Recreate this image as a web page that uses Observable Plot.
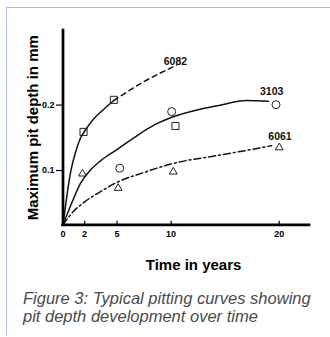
<!DOCTYPE html>
<html><head><meta charset="utf-8">
<script src="https://cdn.jsdelivr.net/npm/d3@7"></script>
<script src="https://cdn.jsdelivr.net/npm/@observablehq/plot@0.6"></script>
<style>
body{margin:0;background:#fff;}
#wrap{position:relative;width:330px;height:337px;overflow:hidden;background:#fff;}
#frame{position:absolute;left:6px;top:7px;width:330px;height:328px;border-top:1.5px solid #a9b7e3;border-left:1.5px solid #a9b7e3;}
#chart{position:absolute;left:0;top:0;}
.cap{position:absolute;left:23px;font-family:"Liberation Sans";font-style:italic;font-size:16.5px;color:#4a4a4a;line-height:18.5px;white-space:nowrap;}
</style></head><body>
<div id="wrap"><div id="frame"></div><div id="chart"></div>
<div class="cap" style="top:288.5px">Figure 3: Typical pitting curves showing</div>
<div class="cap" style="top:307px">pit depth development over time</div></div>
<script>
const xTicks = [0, 2, 5, 10, 20];
const yTicks = [0.1, 0.2];
const xTitle = "Time in years";
const yTitle = "Maximum pit depth in mm";

// fitted curves
const c6082X = [0, 0.35, 0.7, 1.16, 1.6, 2, 2.85, 3.8, 4.7];
const c6082Y = [0.017, 0.06, 0.097, 0.128, 0.149, 0.16, 0.179, 0.194, 0.207];
const e6082X = [4.7, 6, 7.5, 9, 10.5];
const e6082Y = [0.207, 0.221, 0.236, 0.249, 0.261];
const c3103X = [0, 0.8, 1.6, 2.5, 3.5, 5, 7, 8.5, 10, 12.5, 14.3, 17, 19];
const c3103Y = [0.017, 0.05, 0.08, 0.1, 0.115, 0.132, 0.155, 0.17, 0.181, 0.193, 0.199, 0.207, 0.206];
const c6061X = [0, 1, 2, 3.5, 5, 7.5, 10, 14.3, 17.4, 19.3];
const c6061Y = [0.017, 0.038, 0.052, 0.068, 0.082, 0.097, 0.110, 0.123, 0.132, 0.138];

// measured points
const squareX = [1.9, 4.7, 10.4];
const squareY = [0.159, 0.208, 0.168];
const circleX = [5.25, 10.05, 19.7];
const circleY = [0.1035, 0.190, 0.2006];
const triX = [1.8, 5.1, 10.2, 20.0];
const triY = [0.095, 0.073, 0.098, 0.135];

// series labels
const labelNames = ["6082", "3103", "6061"];
const labelX = [10.4, 19.3, 20.07];
const labelY = [0.267, 0.22, 0.1516];

const zip = (xs, ys) => xs.map((x, i) => ({x, y: ys[i]}));
const labels = labelNames.map((name, i) => ({name, x: labelX[i], y: labelY[i]}));
const y0 = 0.017;

const chart = Plot.plot({
  width: 330, height: 275,
  marginLeft: 62.5, marginRight: 21, marginTop: 30, marginBottom: 50.7,
  x: {domain: [0, 22.8]},
  y: {domain: [y0, 0.314]},
  style: {fontFamily: "Liberation Sans", fontSize: "9px", fontWeight: "bold", color: "#000", background: "transparent"},
  marks: [
    Plot.axisX({ticks: xTicks, tickSize: -3.5, tickPadding: 9.3, tickFormat: d => String(d), label: null, strokeWidth: 1.2, fontSize: 9}),
    Plot.axisY({ticks: yTicks, tickSize: 6.5, tickPadding: 2, tickFormat: d => d.toFixed(1), label: null, strokeWidth: 1.2, fontSize: 9}),
    Plot.line(zip(c6082X, c6082Y), {x: "x", y: "y", curve: "monotone-x", stroke: "#111", strokeWidth: 1.5}),
    Plot.line(zip(e6082X, e6082Y), {x: "x", y: "y", curve: "monotone-x", stroke: "#111", strokeWidth: 1.5, strokeDasharray: "5,4"}),
    Plot.line(zip(c3103X, c3103Y), {x: "x", y: "y", curve: "monotone-x", stroke: "#111", strokeWidth: 1.5}),
    Plot.line(zip(c6061X, c6061Y), {x: "x", y: "y", curve: "monotone-x", stroke: "#111", strokeWidth: 1.5, strokeDasharray: "7,3,2,3"}),
    Plot.dot(zip(squareX, squareY), {x: "x", y: "y", symbol: "square", r: 4, stroke: "#222", strokeWidth: 1, fill: "none"}),
    Plot.dot(zip(circleX, circleY), {x: "x", y: "y", symbol: "circle", r: 4, stroke: "#222", strokeWidth: 1, fill: "none"}),
    Plot.dot(zip(triX, triY), {x: "x", y: "y", symbol: "triangle", r: 2.9, stroke: "#222", strokeWidth: 1, fill: "none"}),
    Plot.text(labels, {x: "x", y: "y", text: "name", fontSize: 10.5, fontWeight: "bold", fill: "#111"}),
    Plot.ruleX([0], {stroke: "#000", strokeWidth: 2.7, strokeLinecap: "square"}),
    Plot.ruleY([y0], {stroke: "#000", strokeWidth: 2.7, strokeLinecap: "square"}),
    Plot.text([yTitle], {frameAnchor: "left", textAnchor: "middle", lineAnchor: "middle", rotate: -90, dx: -30, fontSize: 15, fontWeight: "bold", fill: "#000"}),
    Plot.text([xTitle], {frameAnchor: "bottom", textAnchor: "middle", lineAnchor: "middle", dx: 7.3, dy: 40.2, fontSize: 15, fontWeight: "bold", fill: "#000"})
  ]
});
document.getElementById("chart").appendChild(chart);
</script>
</body></html>
